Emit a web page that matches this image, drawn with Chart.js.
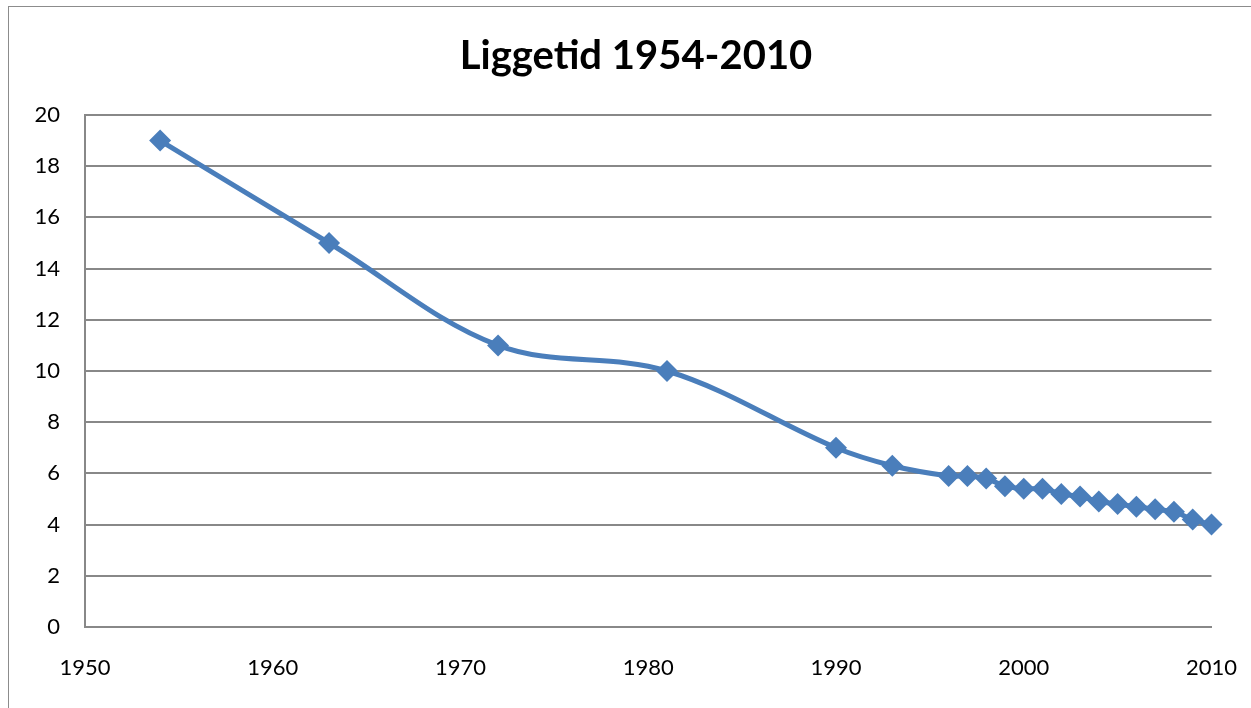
<!DOCTYPE html>
<html>
<head>
<meta charset="utf-8">
<script src="https://cdn.jsdelivr.net/npm/chart.js@4"></script>
<style>
  html, body { margin: 0; padding: 0; background: #fff; overflow: hidden; }
  #frame {
    position: absolute; left: 8px; top: 6px; width: 1300px; height: 800px;
    border: 1px solid #8c8c8c; box-sizing: border-box;
  }
  #wrap { position: absolute; left: 0; top: 0; width: 1251px; height: 708px; }
</style>
</head>
<body>
<div id="frame"></div>
<div id="wrap"><canvas id="chart"></canvas></div>
<script>
// Liggetid per year
const years = [1954, 1963, 1972, 1981, 1990, 1993, 1996, 1997, 1998, 1999, 2000,
               2001, 2002, 2003, 2004, 2005, 2006, 2007, 2008, 2009, 2010];
const days  = [19, 15, 11, 10, 7, 6.3, 5.9, 5.9, 5.8, 5.5, 5.4,
               5.4, 5.2, 5.1, 4.9, 4.8, 4.7, 4.6, 4.5, 4.2, 4.0];
const chartTitle = 'Liggetid 1954-2010';

const blue = '#4a7ebb';
const gridGray = '#888888';
const fontFamily = 'Lato, "Open Sans", sans-serif';

const points = years.map((y, i) => ({ x: y, y: days[i] }));

// title drawn centred over the whole frame, like the original
const titlePlugin = {
  id: 'frameTitle',
  afterDraw(chart) {
    const ctx = chart.ctx;
    ctx.save();
    ctx.font = `bold 40px ${fontFamily}`;
    ctx.fillStyle = '#000';
    ctx.textAlign = 'center';
    ctx.textBaseline = 'middle';
    ctx.fillText(chartTitle, 636, 56);
    ctx.restore();
  }
};

new Chart(document.getElementById('chart'), {
  type: 'line',
  data: {
    datasets: [{
      label: 'Liggetid',
      data: points,
      borderColor: blue,
      backgroundColor: blue,
      borderWidth: 5,
      tension: 0.35,
      pointStyle: 'rectRot',
      pointRadius: 11,
      pointHoverRadius: 11,
      pointBorderWidth: 0,
      clip: false
    }]
  },
  options: {
    responsive: true,
    maintainAspectRatio: false,
    animation: false,
    layout: { padding: { left: 0, right: 39, top: 115, bottom: 0 } },
    plugins: {
      legend: { display: false },
      tooltip: { enabled: false },
      title: { display: false }
    },
    scales: {
      x: {
        type: 'linear',
        min: 1950,
        max: 2010,
        ticks: {
          stepSize: 10,
          color: '#000',
          padding: 14,
          font: { family: fontFamily, size: 22 },
          callback: v => String(v)
        },
        // invisible tick marks only push the labels down
        grid: { display: false, drawTicks: true, tickLength: 14, tickColor: 'rgba(0,0,0,0)' },
        border: { display: true, color: gridGray, width: 2 },
        afterFit: s => { s.height = 81; }
      },
      y: {
        min: 0,
        max: 20,
        ticks: {
          stepSize: 2,
          color: '#000',
          padding: 25,
          font: { family: fontFamily, size: 22 }
        },
        grid: { color: gridGray, lineWidth: 2, drawTicks: false },
        border: { display: true, color: gridGray, width: 2 },
        afterFit: s => { s.width = 85; }
      }
    }
  },
  plugins: [titlePlugin]
});
</script>
</body>
</html>
